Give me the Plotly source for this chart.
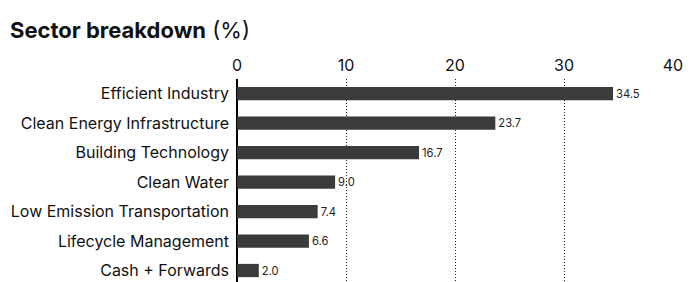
import plotly.graph_objects as go

categories = ["Efficient Industry", "Clean Energy Infrastructure", "Building Technology",
              "Clean Water", "Low Emission Transportation", "Lifecycle Management",
              "Cash + Forwards"]
values = [34.5, 23.7, 16.7, 9.0, 7.4, 6.6, 2.0]
x_ticks = [0, 10, 20, 30, 40]

# page body has an 8px default margin, so the figure is sized/offset to compensate
W, H = 683, 274

fig = go.Figure()
fig.add_trace(go.Bar(
    x=values, y=list(range(len(categories))), orientation="h",
    marker=dict(color="#3b3b39", line=dict(width=0)),
    width=0.45,
    text=[f"{v:.1f}" for v in values], textposition="outside",
    textfont=dict(family="Inter, Roboto, sans-serif", size=13.5, color="#222222"),
    cliponaxis=False,
))

fig.update_layout(
    width=W, height=H,
    margin=dict(l=229, r=18, t=71, b=0),
    paper_bgcolor="white", plot_bgcolor="white",
    showlegend=False,
    font=dict(family="Inter, Roboto, sans-serif", color="#111111"),
    title=dict(text="<b>Sector breakdown</b> (%)", x=2 / W, xanchor="left",
               y=1 - 22 / H, yanchor="middle",
               font=dict(size=22, color="#111111")),
    xaxis=dict(side="top", range=[0, 40], tickvals=x_ticks, ticktext=[str(t) for t in x_ticks],
               showgrid=True, gridcolor="#222222", griddash="1px,2px", gridwidth=1,
               zeroline=True, zerolinecolor="#000000", zerolinewidth=1.5,
               showline=False, ticks="", ticklabelstandoff=4,
               tickfont=dict(size=16, color="#111111")),
    yaxis=dict(range=[6.39, -0.5], tickvals=list(range(len(categories))), ticktext=categories,
               showgrid=False, zeroline=False, showline=False, ticks="",
               ticklabelstandoff=7,
               tickfont=dict(size=16, color="#111111")),
)

fig.write_html("out.html")
